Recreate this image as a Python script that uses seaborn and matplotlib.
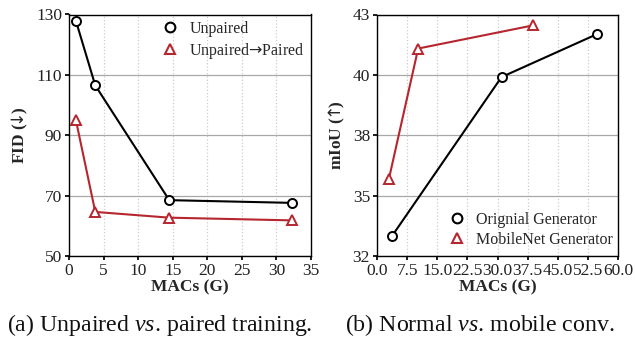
import numpy as np
import pandas as pd
import matplotlib
matplotlib.use("Agg")
import matplotlib.pyplot as plt
from matplotlib.lines import Line2D
import seaborn as sns

# (a) Unpaired vs paired training
macs_a = [1.0, 3.8, 14.5, 32.2]
fid_unpaired = [127.9, 106.5, 68.5, 67.6]
fid_paired = [95.0, 64.6, 62.7, 61.8]

# (b) Normal vs mobile conv
macs_orig = [3.7, 31.0, 54.7]
miou_orig = [32.9, 40.15, 42.1]
macs_mobile = [2.95, 10.25, 38.75]
miou_mobile = [35.5, 41.45, 42.5]

sns.set_theme(style="white")
plt.rcParams["font.family"] = ["Liberation Serif", "DejaVu Serif"]
plt.rcParams["mathtext.fontset"] = "custom"
plt.rcParams["mathtext.rm"] = "Liberation Serif"
plt.rcParams["mathtext.it"] = "Liberation Serif:italic"
plt.rcParams["mathtext.bf"] = "Liberation Serif:bold"
plt.rcParams["mathtext.sf"] = "DejaVu Sans"

red = "#b5262f"
fs = 12.5
fs_leg = 11.5

fig = plt.figure(figsize=(6.35, 3.41), dpi=100)
ax1 = fig.add_axes([69 / 635, 1 - 256 / 341, 242 / 635, 241.5 / 341])
ax2 = fig.add_axes([377 / 635, 1 - 256 / 341, 241 / 635, 241.5 / 341])


def style_axes(ax):
    for s in ax.spines.values():
        s.set_color("black")
        s.set_linewidth(1.0)
    ax.grid(axis="y", color="#a8a8a8", linestyle="-", linewidth=0.9)
    ax.grid(axis="x", color="#cccccc", linestyle=":", linewidth=0.9)
    ax.set_axisbelow(True)
    ax.tick_params(axis="both", labelsize=fs, length=3, color="black",
                   direction="out", left=True, bottom=True, pad=2)
    for lab in ax.get_xticklabels() + ax.get_yticklabels():
        lab.set_color("#222222")


def marker_legend(ax, labels, loc, anchor):
    handles = [
        Line2D([], [], linestyle="none", marker="o", markersize=7,
               markerfacecolor="white", markeredgecolor="black", markeredgewidth=1.5),
        Line2D([], [], linestyle="none", marker="^", markersize=7,
               markerfacecolor="white", markeredgecolor=red, markeredgewidth=1.5),
    ]
    ax.legend(handles, labels, loc=loc, bbox_to_anchor=anchor, frameon=False,
              fontsize=fs_leg, handlelength=1.2, handletextpad=0.6,
              borderaxespad=0.0, borderpad=0.0, labelspacing=0.25)


df_a = pd.DataFrame({
    "macs": macs_a * 2,
    "val": fid_unpaired + fid_paired,
    "kind": ["Unpaired"] * 4 + ["Paired"] * 4,
})
sns.lineplot(data=df_a, x="macs", y="val", hue="kind", style="kind",
             palette=["black", red], markers=["o", "^"], dashes=False,
             markersize=6.5, markerfacecolor="white", markeredgewidth=1.4,
             linewidth=1.5, ax=ax1, legend=False)
for line, c in zip(ax1.get_lines(), ["black", red]):
    line.set_markeredgecolor(c)
ax1.set_xlim(0, 35)
ax1.set_ylim(50, 130)
ax1.set_xticks(np.arange(0, 36, 5))
ax1.set_yticks([50, 70, 90, 110, 130])
ax1.set_xlabel("MACs (G)", fontsize=fs, fontweight="bold", labelpad=0)
ax1.set_ylabel(r"FID ($\!\mathsf{↓}\!$)", fontsize=fs, fontweight="bold", labelpad=4)
style_axes(ax1)
marker_legend(ax1, ["Unpaired", r"Unpaired$\mathsf{→}$Paired"],
              "upper right", (0.975, 0.975))

df_b = pd.DataFrame({
    "macs": macs_orig + macs_mobile,
    "val": miou_orig + miou_mobile,
    "kind": ["Orignial Generator"] * 3 + ["MobileNet Generator"] * 3,
})
sns.lineplot(data=df_b, x="macs", y="val", hue="kind", style="kind",
             palette=["black", red], markers=["o", "^"], dashes=False,
             markersize=6.5, markerfacecolor="white", markeredgewidth=1.4,
             linewidth=1.5, ax=ax2, legend=False)
for line, c in zip(ax2.get_lines(), ["black", red]):
    line.set_markeredgecolor(c)
ax2.set_xlim(0, 60)
ax2.set_ylim(32, 43)
xt = np.arange(0, 60.1, 7.5)
ax2.set_xticks(xt)
ax2.set_xticklabels([f"{v:.1f}" for v in xt])
yt = np.linspace(32, 43, 5)
ax2.set_yticks(yt)
ax2.set_yticklabels([f"{v:.0f}" for v in yt])
ax2.set_xlabel("MACs (G)", fontsize=fs, fontweight="bold", labelpad=0)
ax2.set_ylabel(r"mIoU ($\!\mathsf{↑}\!$)", fontsize=fs, fontweight="bold", labelpad=4)
style_axes(ax2)
marker_legend(ax2, ["Orignial Generator", "MobileNet Generator"],
              "lower right", (0.98, 0.035))

fig.text(0.252, 0.047, r"(a) Unpaired $\it{vs}$. paired training.",
         ha="center", va="center", fontsize=17.2, color="#111111")
fig.text(0.755, 0.047, r"(b) Normal $\it{vs}$. mobile conv.",
         ha="center", va="center", fontsize=17.2, color="#111111")

fig.savefig("out.png", dpi=100)
